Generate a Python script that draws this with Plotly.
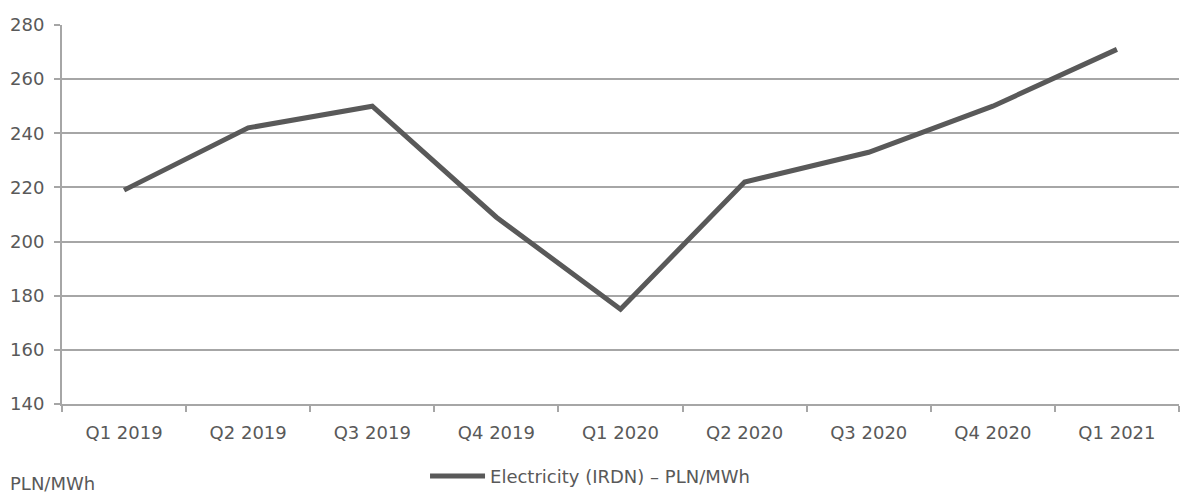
import plotly.graph_objects as go

quarters = ["Q1 2019", "Q2 2019", "Q3 2019", "Q4 2019", "Q1 2020",
            "Q2 2020", "Q3 2020", "Q4 2020", "Q1 2021"]
prices = [219, 242, 250, 209, 175, 222, 233, 250, 271]
series_name = "Electricity (IRDN) \u2013 PLN/MWh"
unit_label = "PLN/MWh"
y_ticks = [140, 160, 180, 200, 220, 240, 260, 280]

TEXT = "#595959"
GRID = "#a6a6a6"
FONT = "DejaVu Sans"
FS = 18

fig = go.Figure()
fig.add_trace(go.Scatter(
    x=quarters, y=prices, mode="lines", name=series_name,
    line=dict(color="#595959", width=5),
))

fig.update_layout(
    width=1181, height=494,
    margin=dict(l=62, r=2, t=25, b=90, autoexpand=False),
    paper_bgcolor="white", plot_bgcolor="white",
    font=dict(family=FONT, size=FS, color=TEXT),
    showlegend=True,
    legend=dict(orientation="h", x=0.325, xanchor="left", y=-0.142,
                yanchor="top", font=dict(size=FS, color=TEXT),
                bgcolor="rgba(0,0,0,0)", itemwidth=55),
    xaxis=dict(
        type="category", range=[-0.5, 8.5],
        showgrid=False, showline=True, linecolor=GRID, linewidth=2,
        ticks="outside", tickson="boundaries", ticklen=6,
        tickcolor=GRID, tickwidth=2, ticklabelstandoff=11,
        tickfont=dict(size=FS, color=TEXT), zeroline=False,
    ),
    yaxis=dict(
        range=[140, 280], tickvals=y_ticks,
        showgrid=True, gridcolor=GRID, gridwidth=1.5,
        showline=True, linecolor=GRID, linewidth=2,
        ticks="outside", ticklen=6, tickcolor=GRID, tickwidth=2,
        ticklabelstandoff=6,
        tickfont=dict(size=FS, color=TEXT), zeroline=False,
    ),
)

fig.add_annotation(
    text=unit_label, xref="paper", yref="paper", x=-0.048, y=-0.178,
    xanchor="left", yanchor="top", showarrow=False,
    font=dict(size=FS, color=TEXT, family=FONT),
)

fig.write_html("out.html")
